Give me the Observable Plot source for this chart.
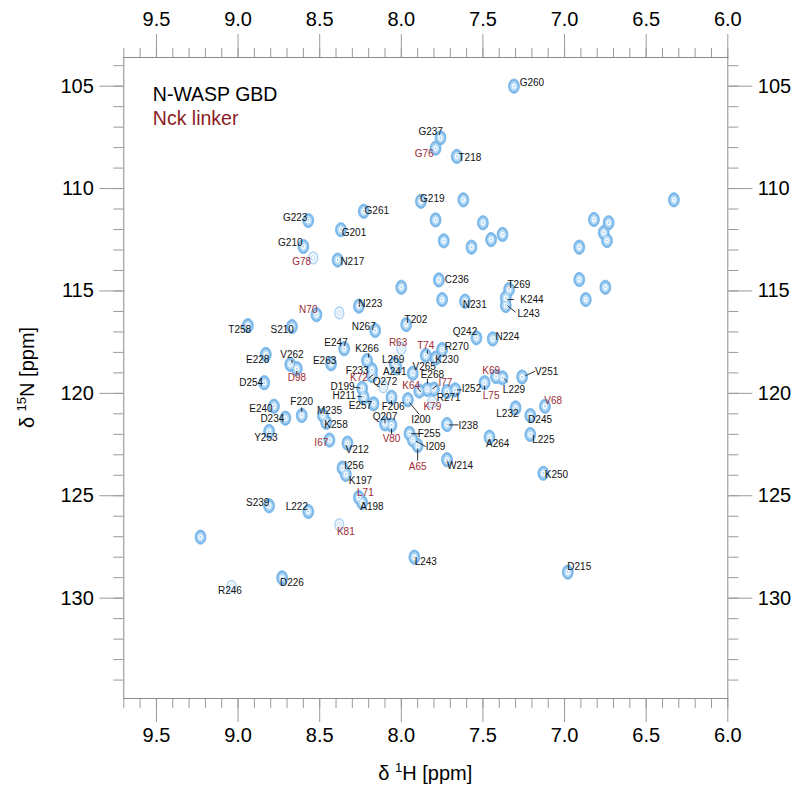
<!DOCTYPE html>
<html>
<head>
<meta charset="utf-8">
<script src="https://cdn.jsdelivr.net/npm/d3@7"></script>
<script src="https://cdn.jsdelivr.net/npm/@observablehq/plot@0.6"></script>
<style>
  html, body { margin: 0; padding: 0; background: #fff; }
  #chart { width: 807px; height: 792px; }
</style>
</head>
<body>
<div id="chart"></div>
<script>
// ---- Data (ppm) ----
// N-WASP GBD assigned peaks: [residue, 1H, 15N, label 1H, label 15N, intensity]
const gbdPeaks = [
  ["G260", 7.31, 105.00, 7.20, 104.82, 1],
  ["G237", 7.76, 107.52, 7.82, 107.25, 1],
  ["T218", 7.66, 108.43, 7.58, 108.48, 1],
  ["G219", 7.88, 110.62, 7.81, 110.49, 1],
  ["G261", 8.23, 111.11, 8.15, 111.07, 1],
  ["G201", 8.37, 112.01, 8.29, 112.15, 1],
  ["N217", 8.39, 113.49, 8.30, 113.56, 1],
  ["G223", 8.57, 111.56, 8.65, 111.41, 1],
  ["G210", 8.60, 112.83, 8.68, 112.63, 1],
  ["V251", 7.26, 119.20, 7.11, 118.97, 1],
  ["D245", 7.21, 121.08, 7.15, 121.28, 1],
  ["L225", 7.21, 122.01, 7.13, 122.25, 1],
  ["K250", 7.13, 123.90, 7.05, 123.96, 1],
  ["D215", 6.98, 128.73, 6.91, 128.45, 1],
  ["S239", 8.81, 125.49, 8.88, 125.36, 1],
  ["L222", 8.57, 125.77, 8.64, 125.52, 1],
  ["D226", 8.73, 129.01, 8.67, 129.27, 1],
  ["R246", 9.04, 129.43, 9.05, 129.66, 0],
  ["I256", 8.36, 123.65, 8.29, 123.52, 1],
  ["K197", 8.34, 123.96, 8.25, 124.26, 1],
  ["A198", 8.24, 125.33, 8.18, 125.56, 1],
  ["L243", 7.92, 128.00, 7.85, 128.21, 1],
  ["T258", 8.94, 116.69, 8.99, 116.88, 1],
  ["S210", 8.67, 116.74, 8.73, 116.90, 1],
  ["E228", 8.83, 118.10, 8.88, 118.35, 1],
  ["V262", 8.68, 118.59, 8.67, 118.12, 1],
  ["D254", 8.84, 119.48, 8.92, 119.47, 1],
  ["E240", 8.78, 120.63, 8.86, 120.74, 1],
  ["F220", 8.61, 121.08, 8.61, 120.43, 1],
  ["D234", 8.71, 121.21, 8.79, 121.24, 1],
  ["Y253", 8.81, 121.86, 8.83, 122.17, 1],
  ["M235", 8.48, 121.08, 8.44, 120.87, 1],
  ["K258", 8.46, 121.42, 8.40, 121.52, 1],
  ["C236", 7.77, 114.46, 7.66, 114.46, 1],
  ["N231", 7.61, 115.50, 7.55, 115.66, 1],
  ["T269", 7.34, 114.93, 7.28, 114.70, 1],
  ["K244", 7.36, 115.34, 7.20, 115.42, 1],
  ["L243", 7.36, 115.71, 7.22, 116.12, 1],
  ["N223", 8.26, 115.74, 8.19, 115.63, 1],
  ["T202", 7.97, 116.64, 7.91, 116.39, 1],
  ["N267", 8.16, 116.93, 8.23, 116.74, 1],
  ["Q242", 7.54, 117.29, 7.61, 117.01, 1],
  ["N224", 7.44, 117.34, 7.35, 117.26, 1],
  ["E247", 8.35, 117.82, 8.40, 117.52, 1],
  ["K266", 8.21, 118.40, 8.21, 117.82, 1],
  ["R270", 7.75, 117.86, 7.66, 117.75, 1],
  ["K230", 7.79, 118.28, 7.72, 118.35, 1],
  ["L269", 8.04, 118.55, 8.05, 118.35, 1],
  ["A241", 8.03, 118.75, 8.04, 118.97, 1],
  ["V265", 7.93, 119.02, 7.86, 118.70, 1],
  ["E263", 8.43, 118.56, 8.47, 118.40, 1],
  ["F233", 8.18, 118.85, 8.27, 118.88, 1],
  ["Q272", 8.11, 119.67, 8.10, 119.42, 0],
  ["E268", 7.84, 119.81, 7.81, 119.09, 1],
  ["D199", 8.24, 119.75, 8.36, 119.70, 1],
  ["H211", 8.23, 120.19, 8.35, 120.14, 1],
  ["E257", 8.17, 120.51, 8.25, 120.59, 1],
  ["F206", 8.06, 120.19, 8.05, 120.68, 1],
  ["R271", 7.72, 119.91, 7.71, 120.24, 1],
  ["I252", 7.67, 119.83, 7.57, 119.78, 1],
  ["I200", 7.96, 120.31, 7.88, 121.28, 1],
  ["Q207", 8.10, 121.49, 8.10, 121.13, 1],
  ["F255", 7.95, 121.95, 7.83, 121.97, 1],
  ["I209", 7.93, 122.27, 7.79, 122.63, 1],
  ["I238", 7.72, 121.52, 7.59, 121.57, 1],
  ["L232", 7.30, 120.71, 7.35, 121.00, 1],
  ["A264", 7.46, 122.14, 7.41, 122.46, 1],
  ["W214", 7.72, 123.24, 7.64, 123.52, 1],
  ["V212", 8.33, 122.43, 8.27, 122.74, 1],
  ["L229", 7.38, 119.24, 7.31, 119.83, 1]
];

// Nck linker assigned peaks: [residue, 1H, 15N, label 1H, label 15N, intensity]
const nckPeaks = [
  ["G76", 7.79, 108.03, 7.86, 108.29, 1],
  ["G78", 8.54, 113.38, 8.61, 113.60, 0],
  ["V68", 7.12, 120.63, 7.07, 120.35, 1],
  ["L71", 8.26, 125.09, 8.22, 124.86, 1],
  ["K81", 8.38, 126.42, 8.34, 126.75, 0],
  ["N70", 8.52, 116.16, 8.57, 115.92, 1],
  ["D98", 8.64, 118.79, 8.64, 119.26, 1],
  ["I67", 8.44, 122.28, 8.49, 122.41, 1],
  ["R63", 8.00, 117.80, 8.02, 117.53, 0],
  ["T74", 7.85, 118.15, 7.85, 117.70, 1],
  ["K72", 8.18, 119.13, 8.26, 119.26, 1],
  ["K64", 7.89, 119.89, 7.94, 119.62, 1],
  ["I77", 7.80, 119.79, 7.73, 119.48, 1],
  ["K79", 7.81, 120.43, 7.81, 120.68, 0],
  ["V80", 8.06, 121.55, 8.06, 122.22, 1],
  ["A65", 7.90, 122.55, 7.90, 123.61, 1],
  ["K69", 7.42, 119.18, 7.45, 118.88, 1],
  ["L75", 7.49, 119.48, 7.45, 120.14, 1]
];

// Unassigned peaks: [1H, 15N, intensity]
const otherPeaks = [
  [7.62, 110.55, 1], [7.79, 111.53, 1], [7.50, 111.67, 1], [7.74, 112.55, 1],
  [7.57, 112.86, 1], [7.45, 112.49, 1], [7.38, 112.24, 1], [6.33, 110.55, 1],
  [6.82, 111.51, 1], [6.73, 111.67, 1], [6.76, 112.15, 1], [6.74, 112.54, 1],
  [6.91, 112.86, 1], [6.91, 114.44, 1], [6.75, 114.82, 1], [6.87, 115.42, 1],
  [9.23, 127.02, 1], [8.00, 114.82, 1], [7.75, 115.42, 1], [8.38, 116.07, 0]
];

// Leader lines between label and peak: [1H start, 15N start, 1H end, 15N end]
const leaders = [
  [8.67, 118.37, 8.67, 118.52], [8.64, 118.90, 8.64, 119.03], [8.61, 120.69, 8.61, 120.91],
  [8.20, 118.05, 8.20, 118.25], [7.84, 117.91, 7.84, 118.08], [7.84, 119.27, 7.84, 119.52],
  [7.90, 119.76, 7.88, 119.91], [7.78, 119.61, 7.81, 119.78], [8.29, 119.70, 8.25, 119.74],
  [8.27, 120.14, 8.24, 120.17], [8.20, 119.26, 8.17, 119.08], [8.06, 120.35, 8.06, 120.54],
  [7.66, 119.83, 7.63, 119.83], [7.89, 121.03, 7.95, 120.45], [8.10, 121.29, 8.10, 121.45],
  [8.06, 121.73, 8.06, 121.98], [7.94, 121.97, 7.89, 121.97], [7.91, 122.34, 7.85, 122.60],
  [7.90, 122.71, 7.90, 123.28], [7.71, 121.54, 7.65, 121.54], [7.35, 115.42, 7.31, 115.42],
  [7.35, 115.71, 7.30, 116.04], [7.37, 119.27, 7.35, 119.46], [7.49, 119.62, 7.49, 119.83],
  [7.24, 119.14, 7.18, 118.92]
];

// Axis ticks
const majorH = [9.5, 9.0, 8.5, 8.0, 7.5, 7.0, 6.5, 6.0];
const minorH = d3.range(60, 98).map(d => d / 10);
const majorN = [105, 110, 115, 120, 125, 130];
const minorN = d3.range(104, 135);
const xDomain = [9.7, 6.0];
const yDomain = [103.6, 134.9];

// ---- Build tables ----
const toPeak = (r, group) => ({name: r[0], H: r[1], N: r[2], lH: r[3], lN: r[4], weak: r[5] === 0, group});
const labeled = [...gbdPeaks.map(r => toPeak(r, "gbd")), ...nckPeaks.map(r => toPeak(r, "nck"))];
const allPeaks = [...labeled, ...otherPeaks.map(r => ({H: r[0], N: r[1], weak: r[2] === 0}))];
const strong = allPeaks.filter(d => !d.weak);
const weak = allPeaks.filter(d => d.weak);
const links = leaders.map(r => ({h1: r[0], n1: r[1], h2: r[2], n2: r[3]}));

// vertically elongated peak contour shape
const ellipse = {
  draw(ctx, size) {
    const r = Math.sqrt(size / Math.PI);
    const rx = r * 0.76, ry = r, k = 0.5523;
    ctx.moveTo(rx, 0);
    ctx.bezierCurveTo(rx, ry * k, rx * k, ry, 0, ry);
    ctx.bezierCurveTo(-rx * k, ry, -rx, ry * k, -rx, 0);
    ctx.bezierCurveTo(-rx, -ry * k, -rx * k, -ry, 0, -ry);
    ctx.bezierCurveTo(rx * k, -ry, rx, -ry * k, rx, 0);
    ctx.closePath();
  }
};

const RED = "#9e2b35";
const tickColor = "#9a9a9a";
const axisFont = 20;

const axes = [];
for (const anchor of ["bottom", "top"]) {
  axes.push(Plot.axisX({anchor, ticks: minorH, tickSize: 10, stroke: tickColor, fill: "none", label: null}));
  axes.push(Plot.axisX({anchor, ticks: majorH, tickSize: 24, tickPadding: anchor === "top" ? 8 : 5, tickFormat: d => d.toFixed(1),
    stroke: tickColor, fill: "black", fontSize: axisFont, label: null}));
}
for (const anchor of ["left", "right"]) {
  axes.push(Plot.axisY({anchor, ticks: minorN, tickSize: 10, stroke: tickColor, fill: "none", label: null}));
  axes.push(Plot.axisY({anchor, ticks: majorN, tickSize: 24, tickPadding: 6, tickFormat: d => String(d),
    stroke: tickColor, fill: "black", fontSize: axisFont, label: null}));
}

const chart = Plot.plot({
  width: 807,
  height: 792,
  marginLeft: 123.3,
  marginRight: 79.7,
  marginTop: 57,
  marginBottom: 94,
  style: {fontFamily: "'Liberation Sans', Arial, Helvetica, sans-serif", fontSize: "20px", background: "#fff", color: "black"},
  x: {domain: xDomain},
  y: {domain: yDomain, reverse: true},
  marks: [
    ...axes,
    Plot.frame({stroke: "#8a8a8a", strokeWidth: 1}),
    // weak peaks
    Plot.dot(weak, {x: "H", y: "N", r: 6, symbol: ellipse, fill: "#eef6fd", stroke: "#a8d0f1", strokeWidth: 1.2}),
    Plot.dot(weak, {x: "H", y: "N", r: 2.6, symbol: ellipse, fill: "none", stroke: "#c2def5", strokeWidth: 0.8}),
    // strong peaks as contour rings
    Plot.dot(strong, {x: "H", y: "N", r: 7.1, symbol: ellipse, fill: "#7fbaeb", stroke: "#6cb0e7", strokeWidth: 0.8}),
    Plot.dot(strong, {x: "H", y: "N", r: 4.9, symbol: ellipse, fill: "#b8dbf6"}),
    Plot.dot(strong, {x: "H", y: "N", r: 2.7, symbol: ellipse, fill: "#ffffff"}),
    Plot.dot(strong, {x: "H", y: "N", r: 1.2, symbol: ellipse, fill: "#a6d0f2"}),
    // leader lines
    Plot.link(links, {x1: "h1", y1: "n1", x2: "h2", y2: "n2", stroke: "#1a1a1a", strokeWidth: 0.9}),
    // labels
    Plot.text(labeled.filter(d => d.group === "gbd"), {x: "lH", y: "lN", text: "name", fill: "#111", fontSize: 10, textAnchor: "middle", lineAnchor: "middle"}),
    Plot.text(labeled.filter(d => d.group === "nck"), {x: "lH", y: "lN", text: "name", fill: RED, fontSize: 10, textAnchor: "middle", lineAnchor: "middle"}),
    // legend
    Plot.text(["N-WASP GBD"], {text: d => d, frameAnchor: "top-left", dx: 29, dy: 37, textAnchor: "start", lineAnchor: "middle", fontSize: 19.5, fill: "black"}),
    Plot.text(["Nck linker"], {text: d => d, frameAnchor: "top-left", dx: 29, dy: 61, textAnchor: "start", lineAnchor: "middle", fontSize: 19.5, fill: "#8b1c24"})
  ]
});

// axis titles with real superscripts
const svg = d3.select(chart);
const font = "'Liberation Sans', Arial, Helvetica, sans-serif";
const xt = svg.append("text").attr("x", (123.3 + 727.3) / 2).attr("y", 780)
  .attr("text-anchor", "middle").attr("font-family", font).attr("font-size", 20).attr("fill", "black");
xt.append("tspan").text("δ ");
xt.append("tspan").attr("dy", -8).attr("font-size", 13).text("1");
xt.append("tspan").attr("dy", 8).text("H [ppm]");

const yt = svg.append("text").attr("transform", `translate(34, ${(57 + 698) / 2}) rotate(-90)`)
  .attr("text-anchor", "middle").attr("font-family", font).attr("font-size", 20).attr("fill", "black");
yt.append("tspan").text("δ ");
yt.append("tspan").attr("dy", -8).attr("font-size", 13).text("15");
yt.append("tspan").attr("dy", 8).text("N [ppm]");

document.getElementById("chart").append(chart);
</script>
</body>
</html>
